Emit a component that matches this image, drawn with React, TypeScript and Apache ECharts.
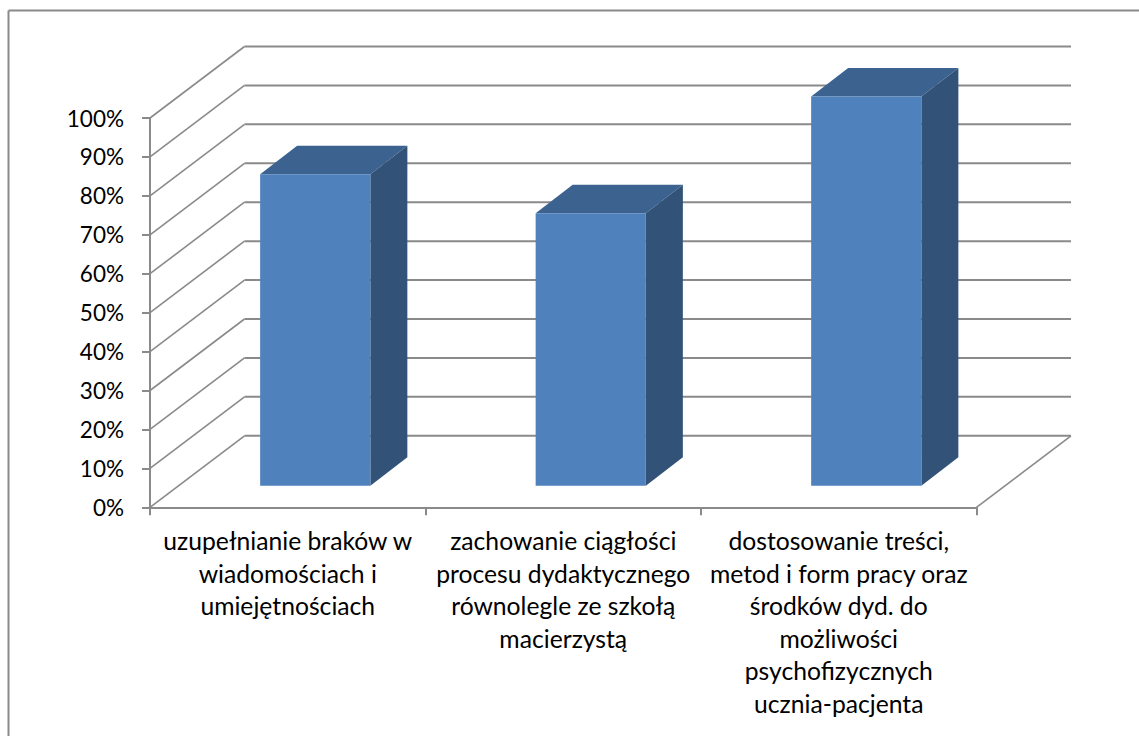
import React, { useEffect, useRef } from "react";
import * as echarts from "echarts";

const categories = [
  "uzupełnianie braków w\nwiadomościach i\numiejętnościach",
  "zachowanie ciągłości\nprocesu dydaktycznego\nrównolegle ze szkołą\nmacierzystą",
  "dostosowanie treści,\nmetod i form pracy oraz\nśrodków dyd. do\nmożliwości\npsychofizycznych\nucznia-pacjenta",
];
const values = [80, 70, 100];
const gridTicks = [0, 10, 20, 30, 40, 50, 60, 70, 80, 90, 100];

const WALL_DX = 94.5;
const WALL_DY = 71.5;
const BAR_OFFSET_X = 27.5;
const BAR_OFFSET_Y = 21.5;
const BAR_DX = 37;
const BAR_DY = 28.5;
const BAR_RATIO = 0.4;
const LINE = "#8a8a8a";
const FONT = "Lato";

export default function App() {
  const ref = useRef<HTMLDivElement>(null);
  useEffect(() => {
    document.body.style.margin = "0";
    document.body.style.overflow = "hidden";
    const chart = echarts.init(ref.current!, undefined, { renderer: "svg" });
    chart.setOption({
      animation: false,
      backgroundColor: "#ffffff",
      textStyle: { fontFamily: FONT },
      grid: { left: 150, top: 118, width: 826.5, height: 389.3 },
      graphic: [
        { type: "line", silent: true, shape: { x1: 8.5, y1: 10.5, x2: 1139, y2: 10.5 }, style: { stroke: LINE, lineWidth: 2 } },
        { type: "line", silent: true, shape: { x1: 8.5, y1: 10.5, x2: 8.5, y2: 736 }, style: { stroke: LINE, lineWidth: 2 } },
      ],
      xAxis: {
        type: "category",
        data: categories,
        axisLine: { lineStyle: { color: LINE, width: 2 } },
        axisTick: { show: true, length: 8, lineStyle: { color: LINE, width: 2 } },
        axisLabel: { interval: 0, color: "#000", fontFamily: FONT, fontSize: 24.7, lineHeight: 32.6, margin: 17 },
        splitLine: { show: false },
      },
      yAxis: {
        type: "value",
        min: 0,
        max: 100,
        interval: 10,
        axisLine: { show: true, lineStyle: { color: LINE, width: 2 } },
        axisTick: { show: true, length: 8, lineStyle: { color: LINE, width: 2 } },
        axisLabel: { color: "#000", fontFamily: FONT, fontSize: 22.5, margin: 26, formatter: "{value}%" },
        splitLine: { show: false },
      },
      series: [
        {
          type: "custom",
          z: 1,
          silent: true,
          data: gridTicks.map((t) => [0, t]),
          encode: { x: 0, y: 1 },
          renderItem: (params: any, api: any) => {
            const band = api.size([1, 0])[0];
            const c0 = api.coord([0, api.value(1)]);
            const c2 = api.coord([2, api.value(1)]);
            const left = c0[0] - band / 2;
            const right = c2[0] + band / 2;
            const y = c0[1];
            const children: any[] = [
              { type: "line", shape: { x1: left, y1: y, x2: left + WALL_DX, y2: y - WALL_DY }, style: { stroke: LINE, lineWidth: 1.6 } },
              { type: "line", shape: { x1: left + WALL_DX, y1: y - WALL_DY, x2: right + WALL_DX, y2: y - WALL_DY }, style: { stroke: LINE, lineWidth: 2 } },
            ];
            if (api.value(1) === 0) {
              children.push({ type: "line", shape: { x1: right, y1: y, x2: right + WALL_DX, y2: y - WALL_DY }, style: { stroke: LINE, lineWidth: 1.6 } });
            }
            return { type: "group", children };
          },
        },
        {
          type: "custom",
          z: 3,
          silent: true,
          data: values.map((v, i) => [i, v]),
          encode: { x: 0, y: 1 },
          renderItem: (params: any, api: any) => {
            const band = api.size([1, 0])[0];
            const w = band * BAR_RATIO;
            const top = api.coord([api.value(0), api.value(1)]);
            const base = api.coord([api.value(0), 0]);
            const x0 = top[0] - w / 2 + BAR_OFFSET_X;
            const x1 = x0 + w;
            const yt = top[1] - BAR_OFFSET_Y;
            const yb = base[1] - BAR_OFFSET_Y;
            return {
              type: "group",
              children: [
                {
                  type: "polygon",
                  shape: { points: [[x0, yt], [x1, yt], [x1 + BAR_DX, yt - BAR_DY], [x0 + BAR_DX, yt - BAR_DY]] },
                  style: { fill: "#3c6390" },
                },
                {
                  type: "polygon",
                  shape: { points: [[x1, yt], [x1 + BAR_DX, yt - BAR_DY], [x1 + BAR_DX, yb - BAR_DY], [x1, yb]] },
                  style: { fill: "#325278" },
                },
                { type: "rect", shape: { x: x0, y: yt, width: w, height: yb - yt }, style: { fill: "#4f81bd" } },
              ],
            };
          },
        },
      ],
    });
    return () => chart.dispose();
  }, []);
  return <div ref={ref} style={{ position: "absolute", left: 0, top: 0, width: 1139, height: 736 }} />;
}
